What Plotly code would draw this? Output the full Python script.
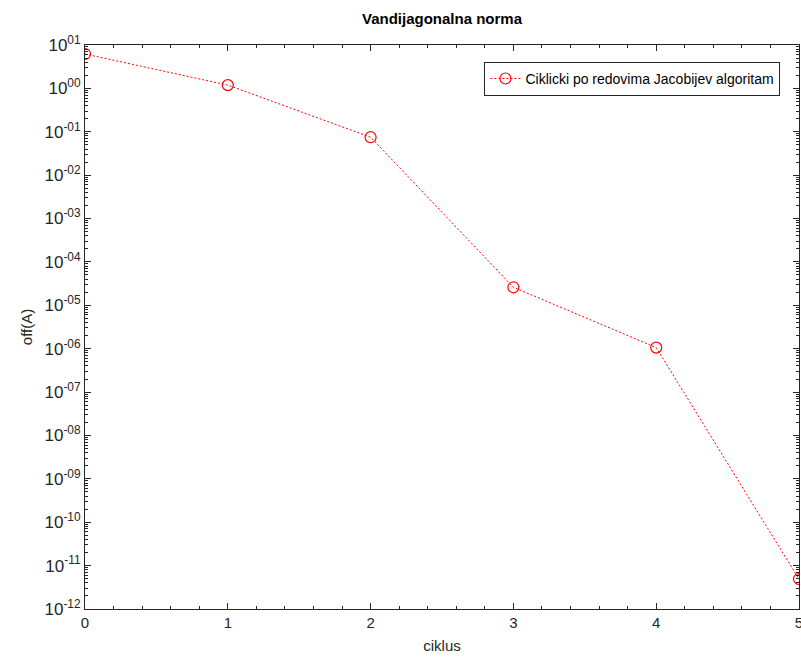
import plotly.graph_objects as go

ciklus = [0, 1, 2, 3, 4, 5]
off_a = [6.2, 1.19, 0.075, 2.6e-5, 1.06e-6, 4.9e-12]
y_exponents = list(range(-12, 2))
x_ticks = [0, 1, 2, 3, 4, 5]


def exp_label(e):
    s = "-%02d" % (-e) if e < 0 else "%02d" % e
    return "10<sup>" + s + "</sup>"


fig = go.Figure()
fig.add_trace(go.Scatter(
    x=ciklus, y=off_a, mode="lines+markers",
    name="Ciklicki po redovima Jacobijev algoritam",
    line=dict(color="red", width=1, dash="2px,2px"),
    marker=dict(symbol="circle-open", size=11, color="red", line=dict(width=1.2, color="red")),
))

axis_color = "#262626"
fig.update_layout(
    width=801, height=666,
    margin=dict(l=85, r=2, t=45, b=57),
    paper_bgcolor="white", plot_bgcolor="white",
    font=dict(family="Liberation Sans, Arial, sans-serif", size=14, color=axis_color),
    title=dict(text="<b>Vandijagonalna norma</b>", x=0.5, xanchor="center",
               xref="paper", yref="container", y=1 - 13 / 666, yanchor="top",
               automargin=False,
               font=dict(size=15, color="black")),
    showlegend=True,
    legend=dict(x=0.974, xanchor="right", y=0.97, yanchor="top",
                bordercolor=axis_color, borderwidth=1, bgcolor="white",
                font=dict(size=14, color="black"), itemwidth=30,
                tracegroupgap=0),
    xaxis=dict(
        range=[0, 5], tickvals=x_ticks, ticktext=[str(v) for v in x_ticks],
        automargin=False, ticklabeloverflow="allow",
        showgrid=False, zeroline=False, showline=True, linecolor=axis_color, linewidth=1,
        mirror="allticks", ticks="inside", ticklen=6, tickcolor=axis_color,
        minor=dict(ticks="inside", ticklen=3, dtick=0.2, tickcolor=axis_color),
        title=dict(text="ciklus", font=dict(size=15), standoff=10),
        tickfont=dict(size=15),
    ),
    yaxis=dict(
        type="log", range=[-12, 1],
        automargin=False, ticklabeloverflow="allow",
        tickvals=[10.0 ** e for e in y_exponents],
        ticktext=[exp_label(e) for e in y_exponents],
        showgrid=False, zeroline=False, showline=True, linecolor=axis_color, linewidth=1,
        mirror="allticks", ticks="inside", ticklen=6, tickcolor=axis_color,
        minor=dict(ticks="inside", ticklen=3, dtick="D1", tickcolor=axis_color),
        title=dict(text="off(A)", font=dict(size=15), standoff=8),
        tickfont=dict(size=17),
    ),
)

fig.write_html("out.html", config={"displayModeBar": False},
               post_script="document.body.style.margin='0';")
